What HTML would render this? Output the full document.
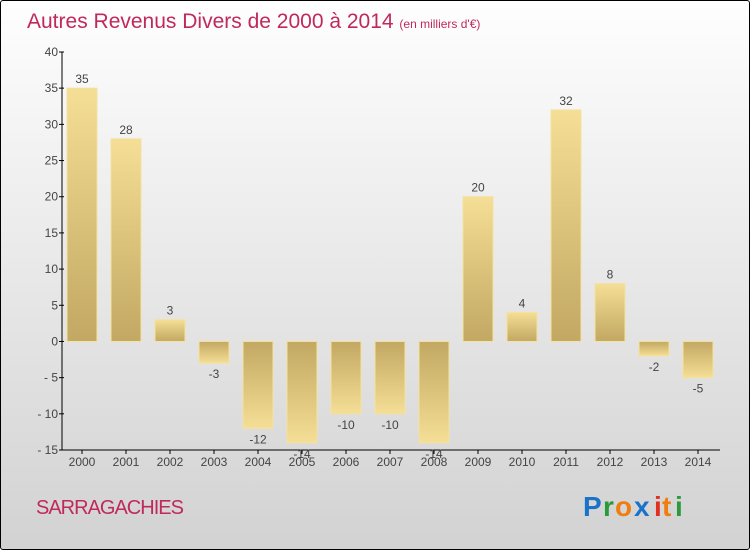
<!DOCTYPE html>
<html><head><meta charset="utf-8"><style>
body{margin:0}
#c{width:750px;height:550px;position:relative;overflow:hidden;box-sizing:border-box;border:1px solid #000;border-radius:3px;background:linear-gradient(#fefefe,#d2d2d2);font-family:"Liberation Sans",sans-serif}
</style></head><body>
<div id="c">
<svg width="750" height="550" style="position:absolute;left:-1px;top:-1px">
<defs>
<linearGradient id="gp" x1="0" y1="0" x2="0" y2="1"><stop offset="0" stop-color="#f5de96"/><stop offset="1" stop-color="#c2a862"/></linearGradient>
<linearGradient id="gn" x1="0" y1="0" x2="0" y2="1"><stop offset="0" stop-color="#c2a862"/><stop offset="1" stop-color="#f5de96"/></linearGradient>
</defs>
<text x="27" y="28" font-size="21" fill="#c0295b" font-family="Liberation Sans,sans-serif">Autres Revenus Divers de 2000 à 2014 <tspan font-size="12">(en milliers d'€)</tspan></text>
<g id="plot"></g>
<text x="36" y="514" font-size="20" fill="#c0295b" letter-spacing="-1">SARRAGACHIES</text>
<g font-size="28" font-weight="bold" font-family="Liberation Sans,sans-serif">
<text x="583" y="516" fill="#1a73c8">P</text><text x="603" y="516" fill="#2a9a3a">r</text><text x="615" y="516" fill="#f07d10">o</text><text x="634" y="516" fill="#1a73c8">x</text><text x="654" y="516" fill="#e03020">i</text><text x="662" y="516" fill="#f07d10">t</text><text x="675" y="516" fill="#2a9a3a">i</text>
</g>
</svg>
</div>
<script>
const years=["2000","2001","2002","2003","2004","2005","2006","2007","2008","2009","2010","2011","2012","2013","2014"];
const values=[35,28,3,-3,-12,-14,-10,-10,-14,20,4,32,8,-2,-5];
const yTicks=[40,35,30,25,20,15,10,5,0,-5,-10,-15];
const NS="http://www.w3.org/2000/svg";
const g=document.getElementById('plot');
const x0=62,x1=720,yMin=-15,yMax=40,pTop=52,pBot=450;
const y=v=>pBot-(v-yMin)/(yMax-yMin)*(pBot-pTop);
const step=44,xc=i=>82+i*step,bw=30;
function el(t,a){const e=document.createElementNS(NS,t);for(const k in a)e.setAttribute(k,a[k]);g.appendChild(e);return e;}
let ax=el('line',{x1:x0,y1:pTop,x2:x0,y2:pBot,stroke:'#000'});


let axx=el('line',{x1:x0,y1:pBot,x2:x1,y2:pBot,stroke:'#000'});


yTicks.forEach(t=>{
 el('line',{x1:x0-3,x2:x0+2,y1:y(t),y2:y(t),stroke:'#000'});
 const tx=el('text',{x:x0-4,y:y(t)+4,'text-anchor':'end','font-size':12,fill:'#444'});
 tx.textContent=t<0?'- '+(-t):t;
 
 
});
values.forEach((v,i)=>{
 const cx=xc(i);
 const yt=y(Math.max(v,0)),yb=y(Math.min(v,0));
 const r=el('rect',{x:cx-bw/2,y:yt,width:bw,height:yb-yt,fill:v>=0?'url(#gp)':'url(#gn)',stroke:'#f3e2a0','stroke-width':1});
 
 
 el('line',{x1:cx,x2:cx,y1:pBot,y2:pBot+4,stroke:'#000'});
 const xl=el('text',{x:cx,y:pBot+16,'text-anchor':'middle','font-size':12,fill:'#444'});
 xl.textContent=years[i];
 
 
 const vl=el('text',{x:cx,y:v>=0?yt-5:yb+15,'text-anchor':'middle','font-size':12,fill:'#444'});
 vl.textContent=v<0?'-'+(-v):v;
 
 
});
</script>
</body></html>
